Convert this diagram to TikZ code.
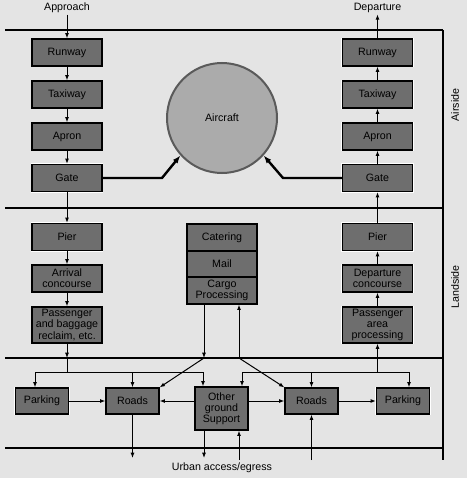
\documentclass[tikz,border=0pt]{standalone}
\usepackage{fontspec}
\setmainfont{Liberation Sans}
\usetikzlibrary{arrows.meta,calc}
\definecolor{bg}{HTML}{E4E4E4}
\definecolor{boxfill}{HTML}{6E6E6E}
\definecolor{circfill}{HTML}{ABABAB}
\definecolor{circline}{HTML}{5A5A5A}
\begin{document}
\begin{tikzpicture}[x=0.75pt,y=-0.75pt,
  font=\fontsize{8}{8.3}\selectfont,
  stepbox/.style={rectangle,draw=black,line width=0.9pt,fill=boxfill,
    preaction={draw=white,line width=2pt},
    minimum width=52.5pt,minimum height=20.25pt,inner sep=0pt,align=center},
  tallbox/.style={stepbox,minimum height=27pt},
  lowbox/.style={stepbox,minimum width=39.75pt,minimum height=19.5pt},
  rule/.style={line width=0.8pt},
  arr/.style={-{Latex[length=4pt,width=3pt]},line width=0.75pt},
  tarr/.style={-{Latex[length=6pt,width=4.5pt]},line width=1.8pt},
  lbl/.style={inner sep=1pt}]
\fill[bg] (0,0) rectangle (467,478);
\useasboundingbox (0,0) rectangle (467,478);
% rules
\draw[rule] (5,30) -- (443,30);
\draw[rule] (5,208) -- (443,208);
\draw[rule] (5,358) -- (443,358);
\draw[rule] (5,448) -- (443,448);
\draw[rule] (443,30) -- (443,460);
\node[rotate=90] (airside) at (455,105) {Airside};
\node[rotate=90] (landside) at (455,287) {Landside};
% labels
\node[lbl] (appr) at (67,8) {Approach};
\node[lbl] (dep) at (377.5,8) {Departure};
\node[lbl] (urban) at (222,468) {Urban access/egress};
% aircraft
\node[circle,minimum size=82.5pt,fill=circfill,draw=circline,line width=1.5pt,inner sep=0pt] (ac) at (222,118) {Aircraft};
% left column
\node[stepbox] (rwL) at (67,52.5) {Runway};
\node[stepbox] (txL) at (67,94.5) {Taxiway};
\node[stepbox] (apL) at (67,136.5) {Apron};
\node[stepbox] (gtL) at (67,178) {Gate};
\node[stepbox] (prL) at (67,237) {Pier};
\node[stepbox] (arL) at (67,278.5) {Arrival\\concourse};
\node[tallbox] (pbL) at (67,325) {Passenger\\and baggage\\reclaim, etc.};
% right column
\node[stepbox] (rwR) at (377.5,52.5) {Runway};
\node[stepbox] (txR) at (377.5,94.5) {Taxiway};
\node[stepbox] (apR) at (377.5,136.5) {Apron};
\node[stepbox] (gtR) at (377.5,178) {Gate};
\node[stepbox] (prR) at (377.5,237) {Pier};
\node[stepbox] (dcR) at (377.5,278.5) {Departure\\concourse};
\node[tallbox] (paR) at (377.5,325) {Passenger\\area\\processing};
% center stack
\node[stepbox] (cat) at (222,237.5) {Catering};
\node[stepbox,minimum height=19.5pt] (mail) at (222,264) {Mail};
\node[stepbox] (cargo) at (222,290.5) {Cargo\\Processing};
% bottom row
\node[lowbox] (parkL) at (42,401) {Parking};
\node[lowbox] (roadsL) at (132.5,401) {Roads};
\node[lowbox,minimum height=32.25pt] (ogs) at (221.5,408.5) {Other\\ground\\Support};
\node[lowbox] (roadsR) at (311.5,401) {Roads};
\node[lowbox] (parkR) at (403,401) {Parking};
% left column arrows
\draw[arr] (appr.south) -- (rwL.north);
\draw[arr] (rwL) -- (txL);
\draw[arr] (txL) -- (apL);
\draw[arr] (apL) -- (gtL);
\draw[arr] (gtL) -- (prL);
\draw[arr] (prL) -- (arL);
\draw[arr] (arL) -- (pbL);
% right column arrows
\draw[arr] (rwR.north) -- (dep.south);
\draw[arr] (txR) -- (rwR);
\draw[arr] (apR) -- (txR);
\draw[arr] (gtR) -- (apR);
\draw[arr] (prR) -- (gtR);
\draw[arr] (dcR) -- (prR);
\draw[arr] (paR) -- (dcR);
% gates to aircraft
\coordinate (kL) at (162,178);
\coordinate (kR) at (283,178);
\draw[tarr] (gtL.east) -- (kL) -- (ac.222);
\draw[tarr] (gtR.west) -- (kR) -- (ac.318);
% left distribution
\coordinate (lT) at (67,358);
\coordinate (lJ) at (67,372);
\draw[arr] (pbL.south) -- (lT);
\draw[line width=0.75pt] (lT) -- (lJ);
\coordinate (dl1) at (35,372);
\coordinate (dl2) at (132.5,372);
\coordinate (dl3) at (203,372);
\draw[line width=0.75pt] (dl1) -- (dl3);
\draw[arr] (dl1) -- (dl1 |- parkL.north);
\draw[arr] (dl2) -- (roadsL.north);
\draw[arr] (dl3) -- (dl3 |- ogs.north);
% right distribution
\coordinate (rJ) at (377.5,372);
\draw[arr] (rJ) -- (paR.south);
\coordinate (dr1) at (242,372);
\coordinate (dr2) at (311.5,372);
\coordinate (dr3) at (409,372);
\draw[line width=0.75pt] (dr1) -- (dr3);
\draw[arr] (dr1) -- (dr1 |- ogs.north);
\draw[arr] (dr2) -- (roadsR.north);
\draw[arr] (dr3) -- (dr3 |- parkR.north);
% cargo connections
\coordinate (cL) at (204,358);
\coordinate (cR) at (239,358);
\draw[arr] (cargo.south -| cL) -- (cL);
\draw[arr] (cR) -- (cargo.south -| cR);
\draw[arr] (cL) -- (roadsL.north east);
\draw[arr] (cR) -- (roadsR.north west);
% horizontal arrows
\draw[arr] (parkL.east) -- (roadsL.west);
\draw[arr] (ogs.west |- roadsL.east) -- (roadsL.east);
\draw[arr] (ogs.east |- roadsR.west) -- (roadsR.west);
\draw[arr] (roadsR.east) -- (parkR.west);
% urban access
\coordinate (b1) at (132.5,458);
\coordinate (b2) at (204,458);
\coordinate (b3) at (239,460);
\coordinate (b4) at (311.5,460);
\draw[arr] (roadsL.south) -- (b1);
\draw[arr] (ogs.south -| b2) -- (b2);
\draw[arr] (b3) -- (ogs.south -| b3);
\draw[arr] (b4) -- (roadsR.south);
\end{tikzpicture}
\end{document}
